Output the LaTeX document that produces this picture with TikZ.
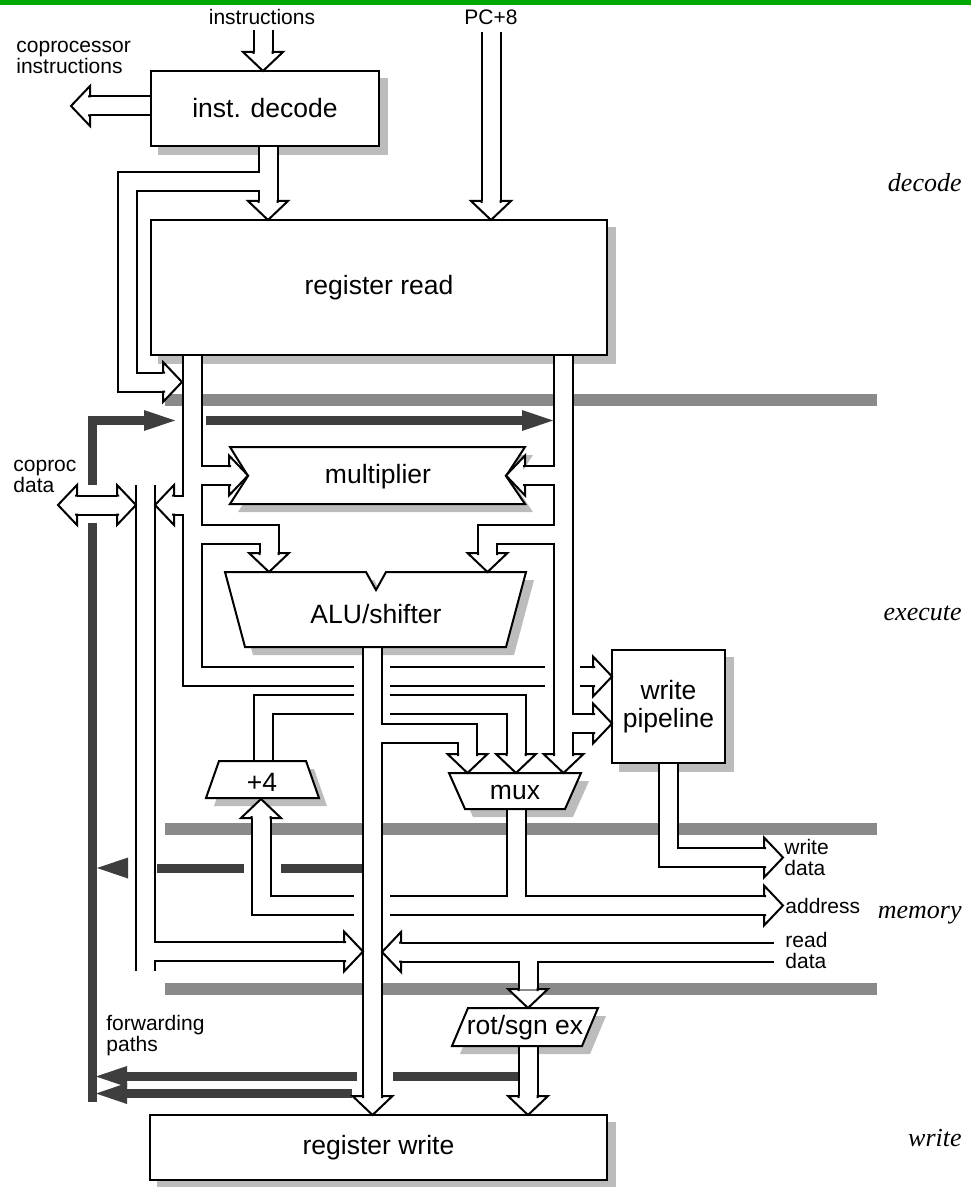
\documentclass[tikz,border=0pt]{standalone}
\usepackage{fontspec}
\setmainfont{Liberation Sans}
\newfontfamily\stagefont{Liberation Serif}
\usepackage{tikz}
\definecolor{topGreen}{RGB}{0,168,0}
\definecolor{barGray}{RGB}{138,138,138}
\definecolor{fwdGray}{RGB}{62,62,62}
\definecolor{shadowGray}{RGB}{188,188,188}
\pgfdeclarelayer{back}
\pgfdeclarelayer{wires}
\pgfsetlayers{back,wires,main}
\tikzset{
  % units with a white face; the shadow is a shifted grey copy
  block/.style={draw=black, fill=white, line width=1pt},
  shadowshift/.style={xshift=4pt, yshift=-4pt},
  shadowfill/.style={fill=shadowGray, shadowshift},
  bigtext/.style={font=\fontsize{13.25}{14}\selectfont, align=center, inner sep=0pt},
  smalltext/.style={font=\fontsize{10.5}{10.5}\selectfont, align=left, inner sep=0pt},
  stagetext/.style={font=\stagefont\itshape\fontsize{13}{13}\selectfont, anchor=east, inner sep=0pt},
  % a bus: two black lines with a white gap between them
  bus/.style={draw=black, line width=1pt, double=white, double distance=8.5pt},
  tipfill/.style={draw=black, fill=white, line width=1pt},
  % forwarding paths and pipeline stage bars
  fwd/.style={draw=fwdGray, line width=4.5pt},
  stagebar/.style={draw=barGray, line width=6pt},
  % outlines of the shaped units
  mult path/.style={insert path={(230,447) -- (525,447) -- (506,476) -- (525,504)
                    -- (230,504) -- (248,476) -- cycle}},
  alu path/.style={insert path={(225,572) -- (366,572) -- (376,590) -- (386,572)
                   -- (526,572) -- (506,647) -- (245,647) -- cycle}},
  inc path/.style={insert path={(219,761) -- (306,761) -- (319,798) -- (206,798) -- cycle}},
  mux path/.style={insert path={(449,773) -- (581,773) -- (565,809) -- (465,809) -- cycle}},
  rot path/.style={insert path={(468,1008) -- (598,1008) -- (582,1046) -- (452,1046) -- cycle}},
}
% open head of a bus, tip at #1, pointing at angle #2
\newcommand\busTip[2]{%
  \filldraw[tipfill, shift={#1}, rotate=#2]
    (-17,9.5) -- (-19,9.5) -- (-19,20) -- (0,0) -- (-19,-20) -- (-19,-9.5) -- (-17,-9.5);}
% solid head of a forwarding path
\newcommand\fwdTip[2]{%
  \fill[fwdGray, shift={#1}, rotate=#2] (0,0) -- (-31,10.5) -- (-31,-10.5) -- cycle;}

\begin{document}
\begin{tikzpicture}[x=0.5pt, y=-0.5pt]
\useasboundingbox (0,0) rectangle (971,1187);
\fill[topGreen] (0,0) rectangle (971,5);

% ------------------------------- the units ---------------------------------
\node[block, bigtext, minimum width=114pt, minimum height=37.5pt] (decode) at (265,108.5) {inst. decode};
\node[block, bigtext, minimum width=228pt, minimum height=67.5pt] (regread) at (379,287.5) {register read};
\node[block, bigtext, minimum width=228.5pt, minimum height=32.5pt] (regwrite) at (378.5,1147.5) {register write};
\node[block, bigtext, minimum width=56.5pt, minimum height=56.5pt] (wpipe) at (668.5,706.5) {write\\pipeline};

\path[block, mult path];
\node[bigtext] (mult) at (378,477) {multiplier};
\path[block, alu path];
\node[bigtext] (alu) at (376,614) {ALU/shifter};
\path[block, inc path];
\node[bigtext] (inc) at (262,782) {+4};
\path[block, mux path];
\node[bigtext] (mux) at (515,792) {mux};
\path[block, rot path];
\node[bigtext] (rotsgn) at (525,1028) {rot/sgn ex};

% ------------------------------- shadows, bars, forwarding -----------------
\begin{pgfonlayer}{back}
  \foreach \n in {decode, regread, regwrite, wpipe}
    \fill[shadowGray] ([shadowshift]\n.south west) rectangle ([shadowshift]\n.north east);
  \fill[shadowfill, mult path];
  \fill[shadowfill, alu path];
  \fill[shadowfill, inc path];
  \fill[shadowfill, mux path];
  \fill[shadowfill, rot path];

  \foreach \y in {400, 829, 989}
    \draw[stagebar] (165,\y) -- (877,\y);

  \draw[fwd] (92.5,485) -- (92.5,420.5) -- (144,420.5);
  \fwdTip{(175,420.5)}{0}
  \draw[fwd] (206,420.5) -- (522,420.5);
  \fwdTip{(553,420.5)}{0}
  \draw[fwd] (92.5,523) -- (92.5,1102);
  \draw[fwd] (362,868) -- (281,868) (244,868) -- (157,868);
  \fwdTip{(97,868)}{180}
  \draw[fwd] (518,1076.5) -- (393,1076.5) (357,1076.5) -- (126,1076.5);
  \fwdTip{(96,1076.5)}{180}
  \draw[fwd] (352,1093.5) -- (126,1093.5);
  \fwdTip{(96,1093.5)}{180}
\end{pgfonlayer}

% ------------------------------- buses -------------------------------------
\begin{pgfonlayer}{wires}
  % decode stage
  \draw[bus] (263,30) -- (263,52);
  \draw[bus] (491,32) -- (491,201);
  \draw[bus] (151,106) -- (90,106);
  \draw[bus] (268,146) -- (268,201)
             (268,146) -- (268,182) -- (127,182) -- (127,382) -- (163,382);
  % first operand
  \draw[bus] (192.5,355) -- (192.5,676.5) -- (354,676.5)
             (192.5,475.5) -- (229,475.5)
             (192.5,505) -- (174,505)
             (192.5,534.5) -- (269,534.5) -- (269,553)
             (390,676.5) -- (545,676.5)
             (580,676.5) -- (593,676.5);
  % second operand
  \draw[bus] (563.5,355) -- (563.5,754)
             (563.5,475.5) -- (525,475.5)
             (563.5,534.5) -- (487.5,534.5) -- (487.5,553)
             (563.5,723.5) -- (593,723.5);
  % result
  \draw[bus] (372.5,647) -- (372.5,1096)
             (372.5,733) -- (467.5,733) -- (467.5,754);
  \draw[bus] (263.5,761) -- (263.5,704) -- (354,704)
             (390,704) -- (516,704) -- (516,754);
  % memory stage
  \draw[bus] (261,818) -- (261,905.5) -- (354,905.5)
             (390,905.5) -- (764,905.5)
             (516,809) -- (516,905.5);
  \draw[bus] (668,763) -- (668,857.5) -- (764,857.5);
  \draw[bus] (77,505) -- (117,505);
  \draw[bus] (145.5,485) -- (145.5,971)
             (145.5,951.5) -- (344,951.5);
  \draw[bus] (774,952) -- (401,952)
             (528,952) -- (528,989);
  \draw[bus] (528,1046) -- (528,1096);
\end{pgfonlayer}

% ------------------------------- bus heads ---------------------------------
\busTip{(263,71)}{-90}
\busTip{(491,220)}{-90}
\busTip{(71,106)}{180}
\busTip{(268,220)}{-90}
\busTip{(182,382)}{0}
\busTip{(248,475.5)}{0}
\busTip{(155,505)}{180}
\busTip{(269,572)}{-90}
\busTip{(612,676.5)}{0}
\busTip{(506,475.5)}{180}
\busTip{(487.5,572)}{-90}
\busTip{(612,723.5)}{0}
\busTip{(563.5,773)}{-90}
\busTip{(467.5,773)}{-90}
\busTip{(516,773)}{-90}
\busTip{(372.5,1115)}{-90}
\busTip{(261,799)}{90}
\busTip{(783,905.5)}{0}
\busTip{(783,857.5)}{0}
\busTip{(58,505)}{180}
\busTip{(136,505)}{0}
\busTip{(363,951.5)}{0}
\busTip{(382,952)}{180}
\busTip{(528,1008)}{-90}
\busTip{(528,1115)}{-90}

% ------------------------------- labels ------------------------------------
\node[smalltext] (instrlbl) at (262,17) {instructions};
\node[smalltext] (pclbl) at (491,17) {PC+8};
\node[smalltext, anchor=west] (cpilbl) at (16,57) {coprocessor\\instructions};
\node[smalltext, anchor=west] (cpdlbl) at (13,476) {coproc\\data};
\node[smalltext, anchor=west] (fwdlbl) at (106,1036) {forwarding\\paths};
\node[smalltext, anchor=west] (wdlbl) at (784,857) {write\\data};
\node[smalltext, anchor=west] (addrlbl) at (785,905.5) {address};
\node[smalltext, anchor=west] (rdlbl) at (785,950) {read\\data};

\node[stagetext] (stdecode) at (962,183) {decode};
\node[stagetext] (stexec) at (962,613) {execute};
\node[stagetext] (stmem) at (962,915) {memory};
\node[stagetext] (stwrite) at (962,1138) {write};

\end{tikzpicture}
\end{document}
